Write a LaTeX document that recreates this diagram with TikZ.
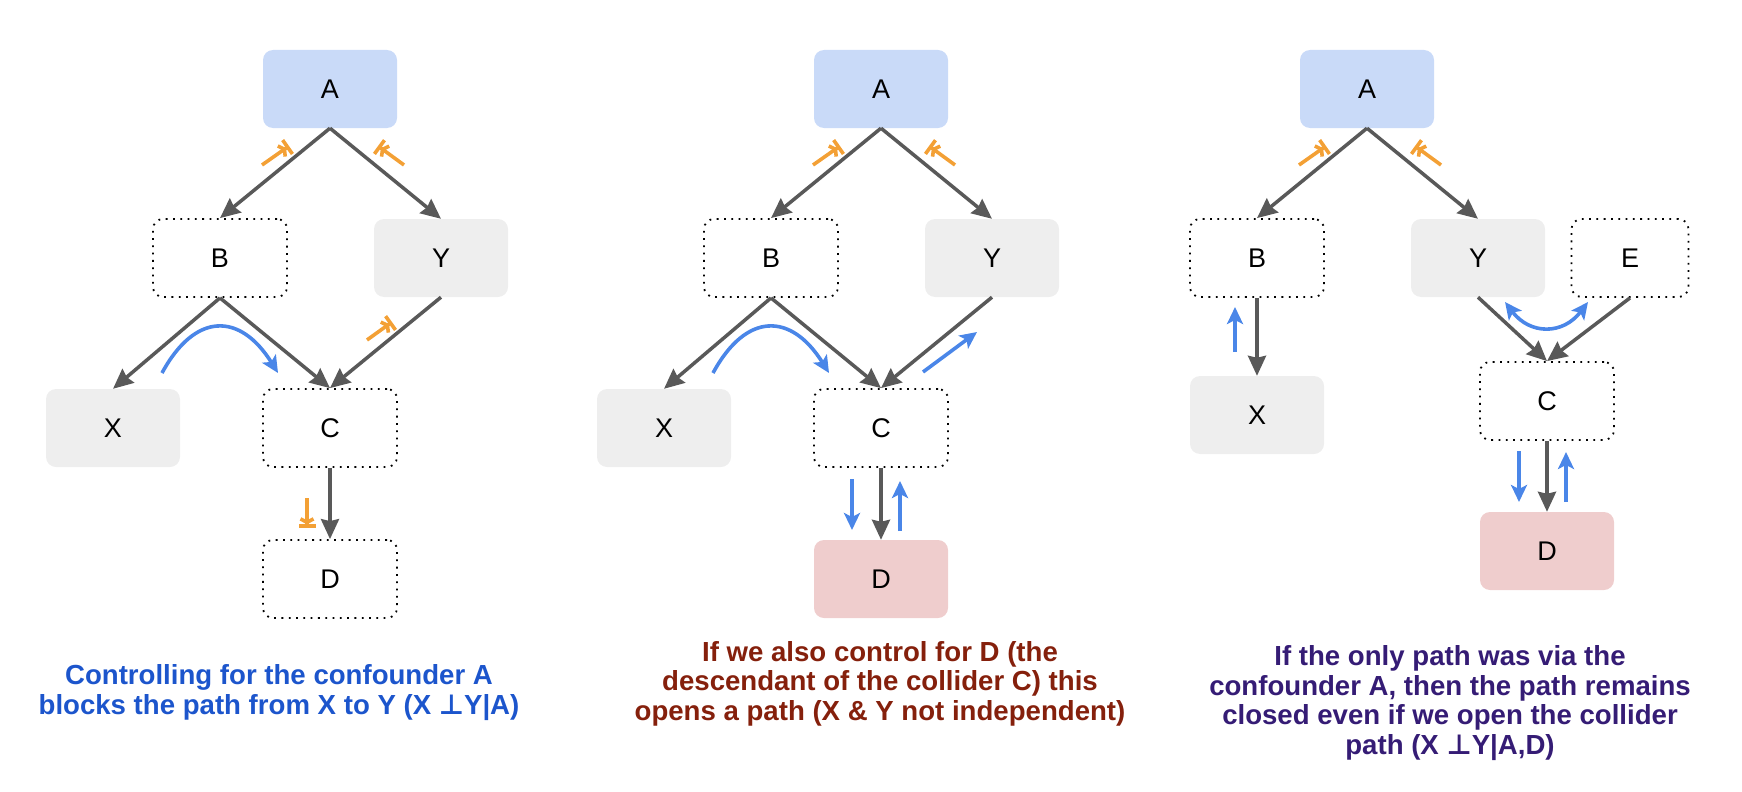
\documentclass[tikz,border=0pt]{standalone}
\usepackage{fontspec}
\setmainfont{Liberation Sans}
\newfontfamily\dvfont{DejaVu Sans}
\usetikzlibrary{arrows.meta}
\definecolor{boxblue}{HTML}{C9DAF8}
\definecolor{boxgray}{HTML}{EEEEEE}
\definecolor{boxpink}{HTML}{EFCDCD}
\definecolor{edgegray}{HTML}{595959}
\definecolor{arrblue}{HTML}{4A86E8}
\definecolor{arrorange}{HTML}{F3A035}
\definecolor{capone}{HTML}{1C55CC}
\definecolor{captwo}{HTML}{85200C}
\definecolor{capthree}{HTML}{351C75}
\tikzset{
  nd/.style={rounded corners=10pt, minimum width=134pt, minimum height=78pt, inner sep=0pt, font=\fontsize{27}{30}\selectfont},
  fa/.style={nd, fill=boxblue},
  fg/.style={nd, fill=boxgray},
  fd/.style={nd, fill=boxpink},
  dt/.style={nd, draw=black, line width=1.8pt, dash pattern=on 1.8pt off 5.5pt},
  conn/.style={draw=edgegray, line width=3.5pt, -{Stealth[length=20pt,width=18pt,inset=2pt]}},
  bl/.style={draw=arrblue, line width=3.6pt, -{Stealth[length=17pt,width=16pt,inset=4pt]}},
  blboth/.style={draw=arrblue, line width=3.6pt, {Stealth[length=17pt,width=16pt,inset=4pt]}-{Stealth[length=17pt,width=16pt,inset=4pt]}},
  orng/.style={draw=arrorange, line width=3.6pt, -{Straight Barb[length=3.5pt,width=13pt] Bar[width=17pt]}},
  captext/.style={align=center, font=\bfseries\fontsize{27.6}{29.5}\selectfont}
}
\begin{document}
\begin{tikzpicture}[x=1pt,y=-1pt]
\useasboundingbox (0,0) rectangle (1742,792);
% ---------- Panel 1 ----------
\node[fa] (A1) at (330,89) {A};
\node[dt] (B1) at (220,258) {B};
\node[fg] (Y1) at (441,258) {Y};
\node[fg] (X1) at (113,428) {X};
\node[dt] (C1) at (330,428) {C};
\node[dt] (D1) at (330,579) {D};
\draw[conn] (A1.south) -- (B1.north);
\draw[conn] (A1.south) -- (Y1.north);
\draw[conn] (B1.south) -- (X1.north);
\draw[conn] (B1.south) -- (C1.north);
\draw[conn] (Y1.south) -- (C1.north);
\draw[conn] (C1.south) -- (D1.north);
\draw[orng] (262,165) -- (289,146);
\draw[orng] (404,165) -- (378,146);
\draw[orng] (367,340) -- (392,322);
\draw[orng] (307,498) -- (307,528);
\draw[bl] (162,373) .. controls (195,312) and (240,312) .. (278,373);
\node[captext, text=capone] (T1) at (279,692.5) {Controlling for the confounder A\\blocks the path from X to Y (X {\dvfont\bfseries ⊥}Y|A)};
% ---------- Panel 2 ----------
\node[fa] (A2) at (881,89) {A};
\node[dt] (B2) at (771,258) {B};
\node[fg] (Y2) at (992,258) {Y};
\node[fg] (X2) at (664,428) {X};
\node[dt] (C2) at (881,428) {C};
\node[fd] (D2) at (881,579) {D};
\draw[conn] (A2.south) -- (B2.north);
\draw[conn] (A2.south) -- (Y2.north);
\draw[conn] (B2.south) -- (X2.north);
\draw[conn] (B2.south) -- (C2.north);
\draw[conn] (Y2.south) -- (C2.north);
\draw[conn] (C2.south) -- (D2.north);
\draw[orng] (813,165) -- (840,146);
\draw[orng] (955,165) -- (929,146);
\draw[bl] (713,373) .. controls (746,312) and (791,312) .. (829,373);
\draw[bl] (923,372) -- (977,332);
\draw[bl] (852,479) -- (852,530);
\draw[bl] (900,531) -- (900,481);
\node[captext, text=captwo] (T2) at (880,683.5) {If we also control for D (the\\descendant of the collider C) this\\opens a path (X \& Y not independent)};
% ---------- Panel 3 ----------
\node[fa] (A3) at (1367,89) {A};
\node[dt] (B3) at (1257,258) {B};
\node[fg] (Y3) at (1478,258) {Y};
\node[dt, minimum width=117pt] (E3) at (1630,258) {E};
\node[fg] (X3) at (1257,415) {X};
\node[dt] (C3) at (1547,401) {C};
\node[fd] (D3) at (1547,551) {D};
\draw[conn] (A3.south) -- (B3.north);
\draw[conn] (A3.south) -- (Y3.north);
\draw[conn] (B3.south) -- (X3.north);
\draw[conn] (Y3.south) -- (C3.north);
\draw[conn] (E3.south) -- (C3.north);
\draw[conn] (C3.south) -- (D3.north);
\draw[orng] (1299,165) -- (1326,146);
\draw[orng] (1441,165) -- (1415,146);
\draw[bl] (1235,352) -- (1235,307);
\draw[blboth] (1505,302) .. controls (1530,335) and (1563,335) .. (1588,302);
\draw[bl] (1519,451) -- (1519,502);
\draw[bl] (1566,502) -- (1566,452);
\node[captext, text=capthree] (T3) at (1450,703) {If the only path was via the\\confounder A, then the path remains\\closed even if we open the collider\\path (X {\dvfont\bfseries ⊥}Y|A,D)};
\end{tikzpicture}
\end{document}
